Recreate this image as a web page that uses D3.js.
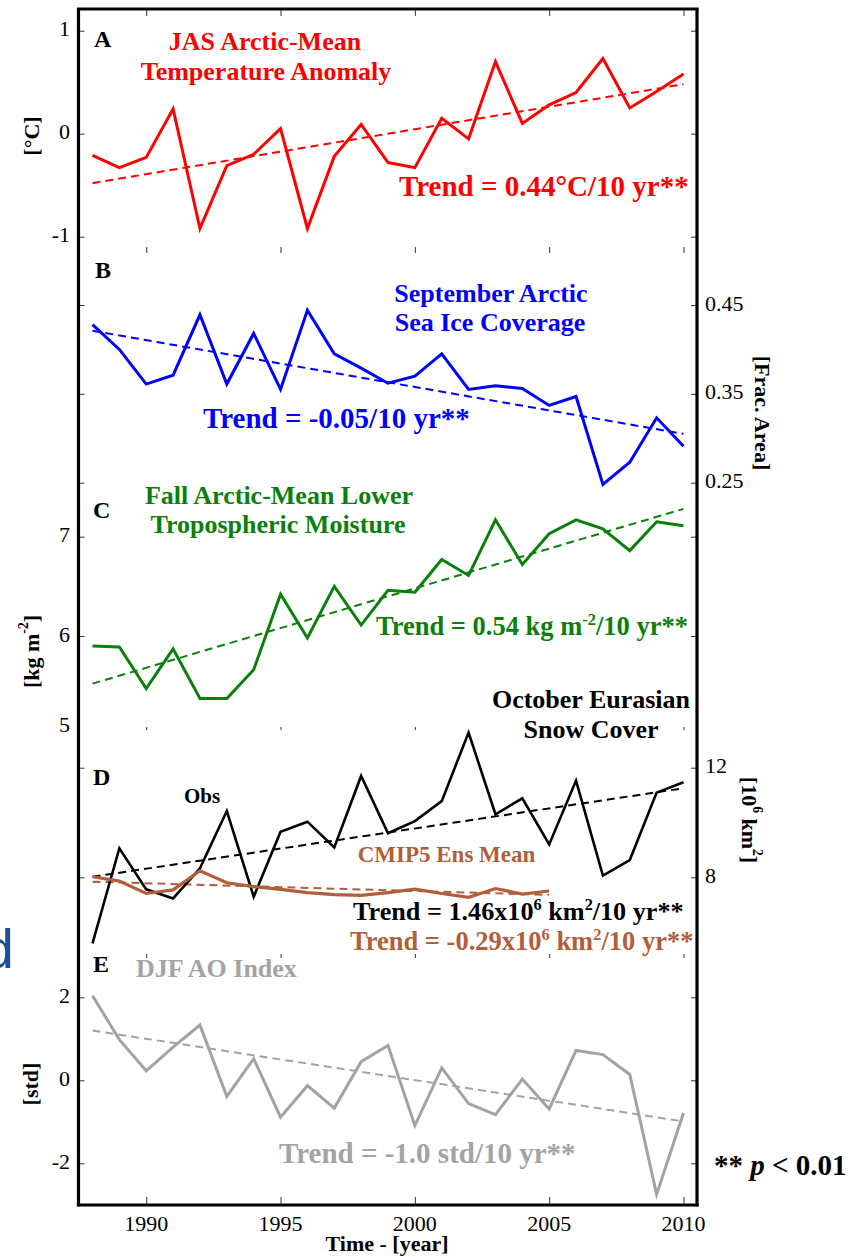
<!DOCTYPE html>
<html>
<head>
<meta charset="utf-8">
<script src="https://cdn.jsdelivr.net/npm/d3@7"></script>
<style>
  html, body { margin: 0; padding: 0; background: #fff; }
  svg { display: block; }
</style>
</head>
<body>
<script>
// ---------------- DATA ----------------
const years = [1988,1989,1990,1991,1992,1993,1994,1995,1996,1997,1998,1999,2000,2001,2002,2003,2004,2005,2006,2007,2008,2009,2010];
const yearTicks = [1990, 1995, 2000, 2005, 2010];

// A: JAS Arctic-mean temperature anomaly [°C]
const tempAnom = [-0.21,-0.33,-0.23,0.24,-0.92,-0.31,-0.20,0.05,-0.92,-0.22,0.09,-0.28,-0.33,0.15,-0.05,0.70,0.10,0.28,0.40,0.73,0.25,0.41,0.58];
const tempTrend = [-0.48, 0.48];
const tempTicks = [1, 0, -1];

// B: September Arctic sea ice coverage [frac. area]
const seaIce = [0.428,0.400,0.361,0.371,0.439,0.361,0.418,0.355,0.444,0.395,0.379,0.362,0.370,0.395,0.355,0.359,0.356,0.337,0.347,0.248,0.273,0.323,0.291];
const seaIceTrend = [0.421, 0.305];
const seaIceTicks = [0.45, 0.35, 0.25];

// C: Fall Arctic-mean lower tropospheric moisture [kg m-2]
const moisture = [5.90,5.89,5.47,5.87,5.37,5.37,5.66,6.42,5.98,6.50,6.11,6.46,6.44,6.77,6.61,7.17,6.72,7.03,7.17,7.08,6.86,7.15,7.11];
const moistureTrend = [5.52, 7.28];
const moistureTicks = [7, 6, 5];

// D: October Eurasian snow cover [10^6 km2]
const snowObs = [5.59,9.06,7.56,7.23,8.33,10.42,7.29,9.66,10.03,9.09,11.70,9.61,10.05,10.78,13.28,10.30,10.88,9.20,11.53,8.06,8.63,11.09,11.47];
const snowObsTrend = [8.02, 11.25];
const cmipYears = [1988,1989,1990,1991,1992,1993,1994,1995,1996,1997,1998,1999,2000,2001,2002,2003,2004,2005];
const snowCMIP5 = [8.02,7.86,7.41,7.54,8.24,7.80,7.66,7.56,7.44,7.37,7.34,7.44,7.57,7.41,7.27,7.59,7.39,7.50];
const snowCMIP5Trend = [7.84, 7.36];
const snowTicks = [12, 8];

// E: DJF AO index [std]
const aoIndex = [2.04,0.98,0.23,0.80,1.33,-0.39,0.52,-0.89,-0.13,-0.67,0.45,0.84,-1.09,0.30,-0.56,-0.83,0.03,-0.69,0.72,0.62,0.14,-2.75,-0.79];
const aoTrend = [1.20, -0.99];
const aoTicks = [2, 0, -2];

// ---------------- LAYOUT ----------------
const W = 857, H = 1257;
const SERIF = "'Liberation Serif', 'Times New Roman', Times, serif";
const SANS = "'Liberation Sans', Arial, sans-serif";
const frame = {left: 78.5, right: 697, top: 9, bottom: 1205};
const col = {
  red: "#ff0000", blue: "#0000ff", green: "#0a800a", black: "#000000",
  brown: "#b05f3a", gray: "#a3a3a3", dblue: "#1f4e9a"
};

const svg = d3.select("body").append("svg").attr("width", W).attr("height", H);
svg.append("rect").attr("width", W).attr("height", H).attr("fill", "#fff");

const x = d3.scaleLinear().domain([1988, 2010]).range([92.5, 683.5]);

const yA = d3.scaleLinear().domain([-1, 1]).range([236.7, 30.7]);
const yB = d3.scaleLinear().domain([0.25, 0.45]).range([482.7, 305]);
const yC = d3.scaleLinear().domain([6, 7]).range([636, 536.7]);
const yD = d3.scaleLinear().domain([8, 12]).range([877.3, 767.7]);
const yE = d3.scaleLinear().domain([-2, 2]).range([1163.3, 997.3]);

// --------------- helpers ---------------
function txt(g, o) {
  const size = o.size || 22;
  const t = g.append("text")
    .attr("x", o.x).attr("y", o.y)
    .attr("text-anchor", o.anchor || "start")
    .attr("font-family", o.family || SERIF)
    .attr("font-size", size)
    .attr("font-weight", o.weight || "normal")
    .attr("fill", o.fill || "#000");
  if (o.transform) t.attr("transform", o.transform);
  if (o.baseline) t.attr("dominant-baseline", o.baseline);
  (o.parts || [[o.text]]).forEach(p => {
    const s = t.append("tspan").text(p[0]);
    const opt = p[1] || {};
    if (opt.sup) { s.attr("font-size", size * 0.62).attr("dy", -size * 0.38); }
    if (opt.down) { s.attr("dy", size * 0.38); }
    if (opt.italic) s.attr("font-style", "italic");
  });
  return t;
}

function series(yScale, xs, vals, color, width) {
  const line = d3.line().x((d, i) => x(xs[i])).y(d => yScale(d));
  svg.append("path").datum(vals).attr("d", line)
    .attr("fill", "none").attr("stroke", color).attr("stroke-width", width || 3)
    .attr("stroke-linejoin", "miter").attr("stroke-miterlimit", 4);
}
function trend(yScale, xs, vals, color) {
  const line = d3.line().x((d, i) => x(xs[i])).y(d => yScale(d));
  svg.append("path").datum(vals).attr("d", line)
    .attr("fill", "none").attr("stroke", color).attr("stroke-width", 2)
    .attr("stroke-dasharray", "8,5");
}

// y-axes (ticks on both sides inward; labels on one side)
function yAxis(yScale, ticks, side, hidden, nudge) {
  hidden = hidden || []; nudge = nudge || {};
  const shown = ticks.filter(t => hidden.indexOf(t) < 0);
  const gl = svg.append("g").attr("transform", `translate(${frame.left},0)`)
    .call(d3.axisRight(yScale).tickValues(shown).tickSize(6).tickFormat(""));
  gl.select(".domain").remove();
  gl.selectAll(".tick line").attr("stroke", "#333").attr("stroke-width", 1);
  const gr = svg.append("g").attr("transform", `translate(${frame.right},0)`)
    .call(d3.axisLeft(yScale).tickValues(shown).tickSize(6).tickFormat(""));
  gr.select(".domain").remove();
  gr.selectAll(".tick line").attr("stroke", "#333").attr("stroke-width", 1);
  ticks.forEach(t => {
    const yy = yScale(t) + 5.5 + (nudge[t] || 0);
    if (side === "left") {
      txt(svg, {x: 70, y: yy, anchor: "end", size: 22, text: String(t)});
    } else {
      txt(svg, {x: 705, y: yy, anchor: "start", size: 22, text: String(t)});
    }
  });
}

// x ticks at panel boundaries
function xTicks(yPos, len, dir) {
  const g = svg.append("g").attr("transform", `translate(0,${yPos})`)
    .call((dir > 0 ? d3.axisBottom(x) : d3.axisTop(x)).tickValues(yearTicks).tickSize(len).tickFormat(""));
  g.select(".domain").remove();
  g.selectAll(".tick line").attr("stroke", "#333").attr("stroke-width", 1);
}
xTicks(frame.top + 1, 6, 1);
xTicks(247, 6, 1);
xTicks(727, 3, 1);
xTicks(954, 4, 1);
xTicks(frame.bottom - 1, 7, -1);

// x tick labels
yearTicks.forEach(t => txt(svg, {x: x(t), y: 1231, anchor: "middle", size: 22, text: String(t)}));
txt(svg, {x: 387, y: 1251, anchor: "middle", size: 22, weight: "bold", text: "Time - [year]"});

// ---------------- PANEL A ----------------
yAxis(yA, tempTicks, "left");
trend(yA, [1988, 2010], tempTrend, col.red);
series(yA, years, tempAnom, col.red, 3);
txt(svg, {x: 94, y: 46.7, size: 24, weight: "bold", text: "A"});
txt(svg, {x: 265, y: 50, anchor: "middle", size: 26, weight: "bold", fill: col.red, text: "JAS Arctic-Mean"});
txt(svg, {x: 266, y: 80, anchor: "middle", size: 26, weight: "bold", fill: col.red, text: "Temperature Anomaly"});
txt(svg, {x: 399, y: 196, size: 29, weight: "bold", fill: col.red, text: "Trend = 0.44°C/10 yr**"});
txt(svg, {x: 31, y: 136, anchor: "middle", size: 22, weight: "bold", baseline: "central",
  transform: "rotate(-90,31,136)", text: "[°C]"});

// ---------------- PANEL B ----------------
yAxis(yB, seaIceTicks, "right");
trend(yB, [1988, 2010], seaIceTrend, col.blue);
series(yB, years, seaIce, col.blue, 3);
txt(svg, {x: 95, y: 278, size: 24, weight: "bold", text: "B"});
txt(svg, {x: 491, y: 301.7, anchor: "middle", size: 26, weight: "bold", fill: col.blue, text: "September Arctic"});
txt(svg, {x: 490, y: 330.7, anchor: "middle", size: 26, weight: "bold", fill: col.blue, text: "Sea Ice Coverage"});
txt(svg, {x: 203, y: 428.3, size: 29, weight: "bold", fill: col.blue, text: "Trend = -0.05/10 yr**"});
txt(svg, {x: 763, y: 413, anchor: "middle", size: 22, weight: "bold", baseline: "central",
  transform: "rotate(90,763,413)", text: "[Frac. Area]"});

// ---------------- PANEL C ----------------
yAxis(yC, moistureTicks, "left", [5], {5: -9});
trend(yC, [1988, 2010], moistureTrend, col.green);
series(yC, years, moisture, col.green, 3);
txt(svg, {x: 93, y: 518.3, size: 24, weight: "bold", text: "C"});
txt(svg, {x: 279, y: 504, anchor: "middle", size: 26, weight: "bold", fill: col.green, text: "Fall Arctic-Mean Lower"});
txt(svg, {x: 278, y: 533.3, anchor: "middle", size: 26, weight: "bold", fill: col.green, text: "Tropospheric Moisture"});
txt(svg, {x: 376, y: 635, size: 26.5, weight: "bold", fill: col.green,
  parts: [["Trend = 0.54 kg m"], ["-2", {sup: true}], ["/10 yr**", {down: true}]]});
txt(svg, {x: 31, y: 651.5, anchor: "middle", size: 22, weight: "bold", baseline: "central",
  transform: "rotate(-90,31,651.5)",
  parts: [["[kg m"], ["-2", {sup: true}], ["]", {down: true}]]});

// ---------------- PANEL D ----------------
yAxis(yD, snowTicks, "right");
trend(yD, [1988, 2010], snowObsTrend, col.black);
trend(yD, [1988, 2005], snowCMIP5Trend, col.brown);
series(yD, years, snowObs, col.black, 2.6);
series(yD, cmipYears, snowCMIP5, col.brown, 3.2);
txt(svg, {x: 591, y: 708.3, anchor: "middle", size: 26, weight: "bold", text: "October Eurasian"});
txt(svg, {x: 591, y: 738, anchor: "middle", size: 26, weight: "bold", text: "Snow Cover"});
txt(svg, {x: 93, y: 785, size: 24, weight: "bold", text: "D"});
txt(svg, {x: 202, y: 803, anchor: "middle", size: 21, weight: "bold", text: "Obs"});
txt(svg, {x: 446.5, y: 862, anchor: "middle", size: 23, weight: "bold", fill: col.brown, text: "CMIP5 Ens Mean"});
txt(svg, {x: 353, y: 920, size: 26.2, weight: "bold", fill: col.black,
  parts: [["Trend = 1.46x10"], ["6", {sup: true}], [" km", {down: true}], ["2", {sup: true}], ["/10 yr**", {down: true}]]});
txt(svg, {x: 350, y: 950, size: 26.5, weight: "bold", fill: col.brown,
  parts: [["Trend = -0.29x10"], ["6", {sup: true}], [" km", {down: true}], ["2", {sup: true}], ["/10 yr**", {down: true}]]});
txt(svg, {x: 750, y: 820, anchor: "middle", size: 22, weight: "bold", baseline: "central",
  transform: "rotate(90,750,820)",
  parts: [["[10"], ["6", {sup: true}], [" km", {down: true}], ["2", {sup: true}], ["]", {down: true}]]});

// ---------------- PANEL E ----------------
yAxis(yE, aoTicks, "left");
trend(yE, [1988, 2010], aoTrend, col.gray);
series(yE, years, aoIndex, col.gray, 3);
txt(svg, {x: 93, y: 972, size: 24, weight: "bold", text: "E"});
txt(svg, {x: 136, y: 977, size: 26, weight: "bold", fill: col.gray, text: "DJF AO Index"});
txt(svg, {x: 279, y: 1163.3, size: 29, weight: "bold", fill: col.gray, text: "Trend = -1.0 std/10 yr**"});
txt(svg, {x: 30, y: 1084, anchor: "middle", size: 22, weight: "bold", baseline: "central",
  transform: "rotate(-90,30,1084)", text: "[std]"});

// significance note
txt(svg, {x: 714, y: 1175, size: 29, weight: "bold",
  parts: [["** "], ["p", {italic: true}], [" < 0.01"]]});

// stray cropped letter at left edge
txt(svg, {x: 14, y: 968, anchor: "end", size: 56, weight: "normal", fill: col.dblue, family: SANS, text: "d"});

// ---------------- FRAME ----------------
const fr = svg.append("g").attr("stroke", "#000").attr("stroke-width", 3.2).attr("fill", "none");
fr.append("line").attr("x1", frame.left).attr("x2", frame.left).attr("y1", frame.top).attr("y2", frame.bottom + 1.6);
fr.append("line").attr("x1", frame.right).attr("x2", frame.right).attr("y1", frame.top).attr("y2", frame.bottom + 1.6);
fr.append("line").attr("x1", frame.left - 1.6).attr("x2", frame.right + 1.6).attr("y1", frame.top).attr("y2", frame.top);
fr.append("line").attr("x1", frame.left - 1.6).attr("x2", frame.right + 1.6).attr("y1", frame.bottom).attr("y2", frame.bottom);
</script>
</body>
</html>
